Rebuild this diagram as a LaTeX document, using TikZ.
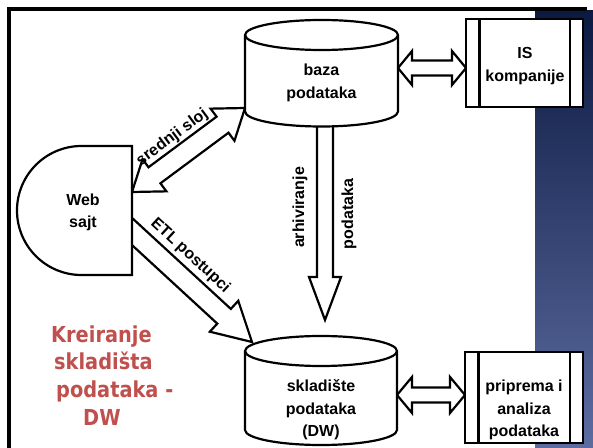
\documentclass[tikz,border=0pt]{standalone}
\usepackage{fontspec}
\setmainfont{Liberation Sans}
\newfontfamily\redfont{DejaVu Sans}[FakeStretch=0.88]
\usetikzlibrary{calc}
\definecolor{kred}{RGB}{192,80,77}
\definecolor{navytop}{RGB}{12,26,66}
\definecolor{navybot}{RGB}{92,108,160}
\tikzset{
  fatarrow/.style={draw=black, fill=white, line width=2.2pt, line join=miter},
  cyl/.style={draw=black, fill=white, line width=2.2pt},
  sidebox/.style={draw=black, fill=white, line width=2.2pt, inner sep=0pt},
  lbl/.style={font=\bfseries\fontsize{16}{22.5}\selectfont, align=center, inner sep=0pt},
  redtxt/.style={font=\redfont\bfseries\fontsize{22}{27.7}\selectfont, text=kred, align=left, inner sep=0pt}
}
% double arrow: A, B, shaft half width, head half width, head length
\newcommand\dblarrow[5]{%
  \draw[fatarrow] (#1)
   -- ($(#1)!#5!(#2)!#4!90:(#2)$)
   -- ($(#1)!#5!(#2)!#3!90:(#2)$)
   -- ($(#2)!#5!(#1)!#3!-90:(#1)$)
   -- ($(#2)!#5!(#1)!#4!-90:(#1)$)
   -- (#2)
   -- ($(#2)!#5!(#1)!#4!90:(#1)$)
   -- ($(#2)!#5!(#1)!#3!90:(#1)$)
   -- ($(#1)!#5!(#2)!#3!-90:(#2)$)
   -- ($(#1)!#5!(#2)!#4!-90:(#2)$)
   -- cycle;}
% single arrow: tail A, tip B
\newcommand\onearrow[5]{%
  \draw[fatarrow] ($(#1)!#3!90:(#2)$)
   -- ($(#2)!#5!(#1)!#3!-90:(#1)$)
   -- ($(#2)!#5!(#1)!#4!-90:(#1)$)
   -- (#2)
   -- ($(#2)!#5!(#1)!#4!90:(#1)$)
   -- ($(#2)!#5!(#1)!#3!90:(#1)$)
   -- ($(#1)!#3!-90:(#2)$) -- cycle;}
\begin{document}
\begin{tikzpicture}[x=1pt,y=1pt]
\useasboundingbox (0,0) rectangle (593,447);
\fill[white] (0,0) rectangle (593,447);
\shade[top color=navytop, bottom color=navybot] (535,0) rectangle (593,436);
\draw[line width=3.7pt, line join=miter] (9.2,-2) -- (9.2,437.8) -- (587,437.8);

% connector end points
\coordinate (bazaR) at (398,379);
\coordinate (isL) at (466,379);
\coordinate (dwR) at (397,52);
\coordinate (prL) at (465,52);
\coordinate (webT) at (132,255);
\coordinate (bazaL) at (245,339);
\coordinate (etlA) at (118,228.4);
\coordinate (etlB) at (252,105);
\coordinate (archA) at (325,340);
\coordinate (archB) at (325,127);

% arrows (behind the shapes)
\dblarrow{bazaR}{isL}{7.5pt}{17pt}{14pt}
\dblarrow{dwR}{prL}{7.5pt}{18pt}{15pt}
\dblarrow{webT}{bazaL}{10pt}{20pt}{28pt}
\onearrow{etlA}{etlB}{10pt}{21pt}{38pt}
\onearrow{archA}{archB}{8pt}{16pt}{43pt}

% top cylinder
\path[cyl] (245,412) -- (245,335.5) arc[start angle=180,end angle=360,x radius=76.5,y radius=15]
  -- (398,412) arc[start angle=0,end angle=180,x radius=76.5,y radius=15] -- cycle;
\draw[line width=2.2pt] (245,412) arc[start angle=180,end angle=360,x radius=76.5,y radius=15];
\node[lbl] (baza) at (321.5,364) {baza\\podataka};

% bottom cylinder
\path[cyl] (245,96) -- (245,17) arc[start angle=180,end angle=360,x radius=76,y radius=15]
  -- (397,96) arc[start angle=0,end angle=180,x radius=76,y radius=15] -- cycle;
\draw[line width=2.2pt] (245,96) arc[start angle=180,end angle=360,x radius=76,y radius=15];
\node[lbl] (dw) at (321,37) {skladište\\podataka\\(DW)};

% web sajt
\path[cyl] (132,301) -- (81.5,301) arc[start angle=90,end angle=270,radius=64.5] -- (132,172) -- cycle;
\node[lbl] (web) at (83,234.5) {Web\\sajt};

% IS kompanije box
\node[sidebox, minimum width=117pt, minimum height=88pt] (is) at (524.5,384) {};
\draw[line width=2.2pt] ([xshift=14.5pt]is.north west) -- ([xshift=14.5pt]is.south west);
\draw[line width=2.2pt] ([xshift=-14.5pt]is.north east) -- ([xshift=-14.5pt]is.south east);
\node[lbl] (isT) at (525,381) {IS\\kompanije};

% priprema box
\node[sidebox, minimum width=118pt, minimum height=91pt] (pr) at (524,49.5) {};
\draw[line width=2.2pt] ([xshift=14.5pt]pr.north west) -- ([xshift=14.5pt]pr.south west);
\draw[line width=2.2pt] ([xshift=-14.5pt]pr.north east) -- ([xshift=-14.5pt]pr.south east);
\node[lbl] (prT) at (524,37) {priprema i\\analiza\\podataka};

% arrow labels
\path (webT) -- (bazaL) node[lbl, sloped, pos=0.46, above=12pt] (sred) {srednji sloj};
\path (etlA) -- (etlB) node[lbl, sloped, pos=0.43, above=14pt] (etl) {ETL postupci};
\node[lbl, rotate=90] (arh) at (300,239.5) {arhiviranje};
\node[lbl, rotate=90] (pod) at (349,233) {podataka};

% red caption
\node[redtxt, anchor=north west] (kreir) at (51,121.7)
  {Kreiranje\\\hspace*{3pt}skladišta\\\hspace*{5pt}podataka -\\\hspace*{32pt}DW};
\end{tikzpicture}
\end{document}
